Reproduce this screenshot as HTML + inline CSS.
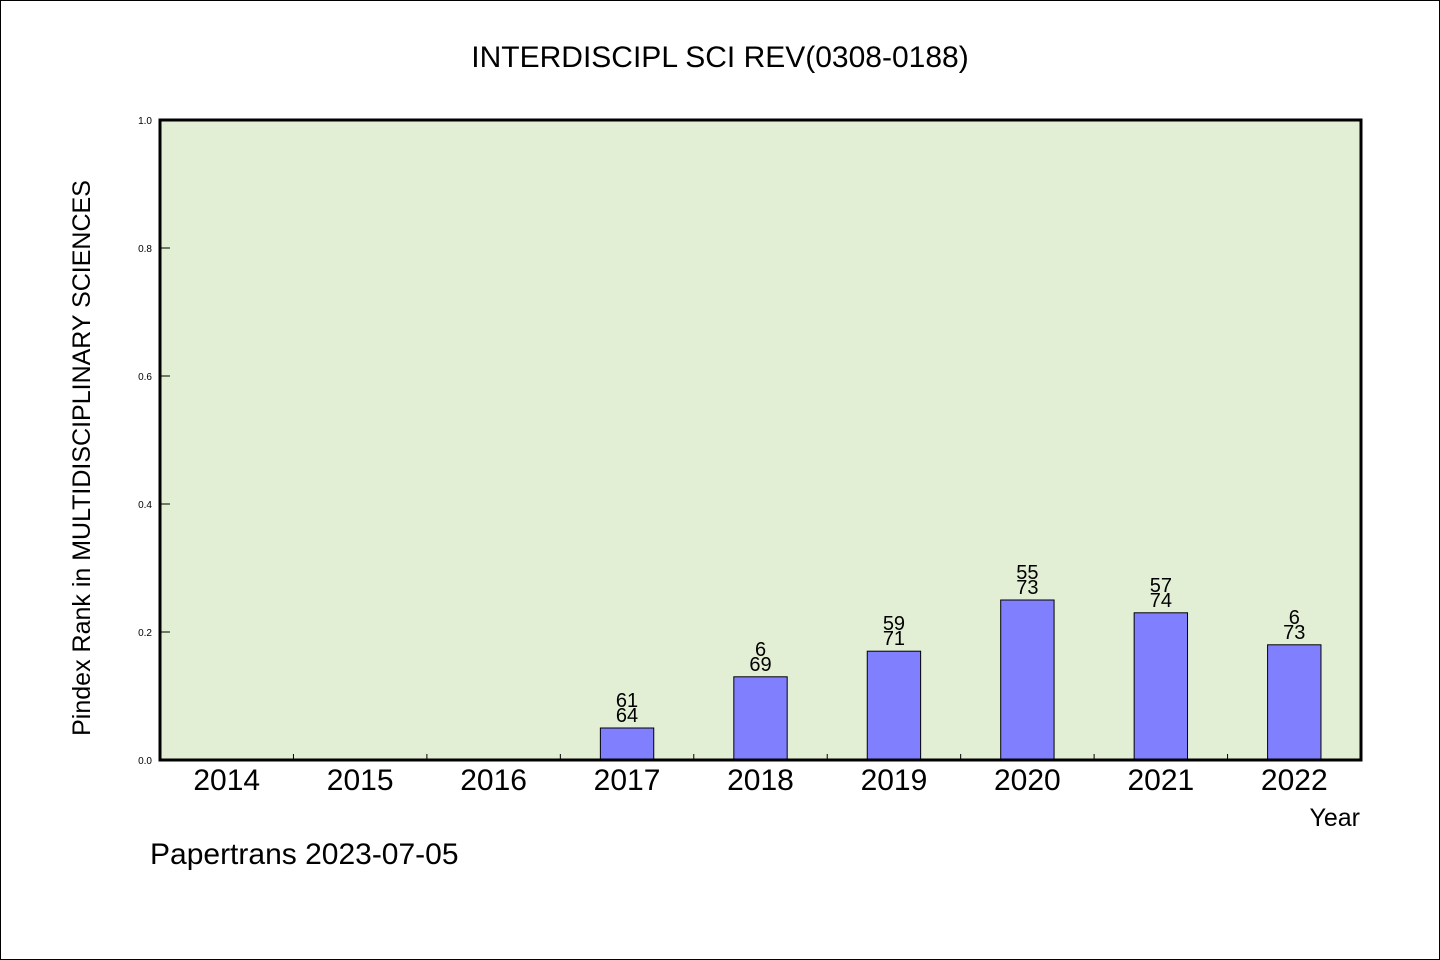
<!DOCTYPE html>
<html><head><meta charset="utf-8"><style>
body{margin:0;background:#fff}
svg{display:block}
text{font-family:"WenQuanYi Zen Hei","Liberation Sans",sans-serif}
</style></head><body>
<svg id="c" width="1440" height="960" xmlns="http://www.w3.org/2000/svg">
<rect x="0.5" y="0.5" width="1439" height="959" fill="#fff" stroke="#000"/>
<text x="720" y="67" font-size="30" text-anchor="middle">INTERDISCIPL SCI REV(0308-0188)</text>
<rect x="160" y="120" width="1201" height="640" fill="#e2efd5"/>
<g id="ticks"></g>
<g id="bars"></g>
<rect x="160" y="120" width="1201" height="640" fill="none" stroke="#000" stroke-width="3"/>
<text x="90" y="458" font-size="25" text-anchor="middle" transform="rotate(-90 90 458)">Pindex Rank in MULTIDISCIPLINARY SCIENCES</text>
<text x="1360" y="826" font-size="25" text-anchor="end">Year</text>
<text x="150" y="864" font-size="30">Papertrans 2023-07-05</text>
</svg>
<script>
const categories=["2014","2015","2016","2017","2018","2019","2020","2021","2022"];
const values=[null,null,null,0.05,0.13,0.17,0.25,0.23,0.18];
const rankLabels=["","","","61","6","59","55","57","6"];
const totalLabels=["","","","64","69","71","73","74","73"];
const yTicks=[0,0.2,0.4,0.6,0.8,1.0];
const NS="http://www.w3.org/2000/svg";
const X0=160,X1=1361,Y0=760,Y1=120;
const slot=(X1-X0)/categories.length;
const xC=i=>X0+(i+0.5)*slot;
const y=v=>Y0-(v-0)/(1-0)*(Y0-Y1);
function mk(t,a,p){const e=document.createElementNS(NS,t);for(const k in a)e.setAttribute(k,a[k]);p.appendChild(e);return e;}
const tg=document.getElementById('ticks'),bg=document.getElementById('bars');
yTicks.forEach(v=>{
 const l=mk('line',{x1:X0,x2:X0+10,y1:y(v),y2:y(v),stroke:'#000','stroke-width':1},tg);
 
 
 const t=mk('text',{x:X0-8,y:y(v)+4,'font-size':10,'text-anchor':'end'},tg);
 t.textContent=v.toFixed(1);
 
 
});
categories.forEach((c,i)=>{
 if(i>0){const l=mk('line',{x1:X0+i*slot,x2:X0+i*slot,y1:Y0,y2:Y0-6,stroke:'#000','stroke-width':1},tg);
 
 }
 const t=mk('text',{x:xC(i),y:Y0+30,'font-size':30,'text-anchor':'middle'},tg);
 t.textContent=c;
 
 
 const v=values[i];
 if(v!=null){
  const w=slot*0.4;
  const r=mk('rect',{x:xC(i)-w/2,y:y(v),width:w,height:Y0-y(v),fill:'#8080ff',stroke:'#000','stroke-width':1},bg);
  
  
  const a=mk('text',{x:xC(i),y:y(v)-21,'font-size':20,'text-anchor':'middle'},bg);
  a.textContent=rankLabels[i];
  
  
  const b=mk('text',{x:xC(i),y:y(v)-6,'font-size':20,'text-anchor':'middle'},bg);
  b.textContent=totalLabels[i];
  
  
 }
});
</script>
</body></html>
